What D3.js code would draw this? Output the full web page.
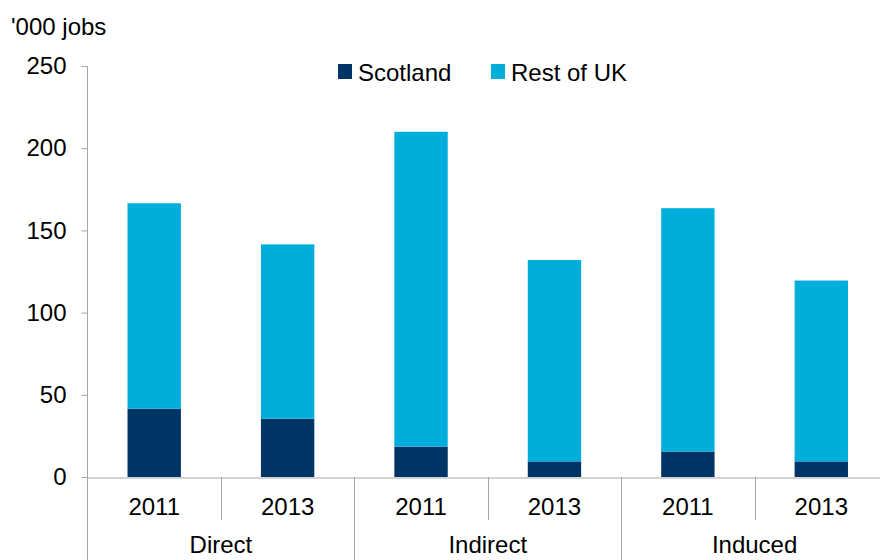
<!DOCTYPE html>
<html>
<head>
<meta charset="utf-8">
<script src="https://cdn.jsdelivr.net/npm/d3@7"></script>
<style>
  body { margin: 0; background: #fff; }
  text { font-family: "Liberation Sans", Arial, sans-serif; fill: #000; }
</style>
</head>
<body>
<div id="container"></div>
<script>
// chart values
let groups = ["Direct", "Indirect", "Induced"];
let years = ["2011", "2013"];
let scotland = [41.5, 35.5, 18.5, 9.5, 15.5, 9.5];
let restOfUK = [125, 106, 191.5, 122.5, 148, 110];
let yTicks = [0, 50, 100, 150, 200, 250];
let seriesNames = ["Scotland", "Rest of UK"];
let seriesColors = ["#003366", "#00AEDC"];

let w = 880;
let h = 560;
let fontSize = 24;
let axisColor = "#A6A6A6";

let viz = d3.select("#container")
  .append("svg")
    .attr("width", w)
    .attr("height", h)
;

// one row per bar, key = group + year
let rows = [];
groups.forEach(function(g, gi){
  years.forEach(function(y, yi){
    let i = gi * years.length + yi;
    rows.push({ key: g + " " + y, group: g, year: y, "Scotland": scotland[i], "Rest of UK": restOfUK[i] });
  });
});

let xScale = d3.scaleBand()
  .domain(rows.map(function(d){ return d.key }))
  .range([87.5, 888])
  .padding(0)
;
let yScale = d3.scaleLinear().domain([0, 250]).range([477, 66]);

let stacked = d3.stack().keys(seriesNames)(rows);

// bars
let barW = xScale.bandwidth() * 0.4;
viz.selectAll(".series")
  .data(stacked)
  .enter()
  .append("g")
    .attr("class", "series")
    .attr("fill", function(d, i){ return seriesColors[i] })
  .selectAll("rect")
  .data(function(d){ return d })
  .enter()
  .append("rect")
    .attr("x", function(d){ return xScale(d.data.key) + (xScale.bandwidth() - barW) / 2 })
    .attr("width", barW)
    .attr("y", function(d){ return yScale(d[1]) })
    .attr("height", function(d){ return yScale(d[0]) - yScale(d[1]) })
;

// y axis
let yAxis = d3.axisLeft(yScale).tickValues(yTicks).tickSize(6).tickSizeOuter(0).tickPadding(15);
let yAxisGroup = viz.append("g")
    .attr("class", "yaxisgroup")
    .attr("transform", "translate(87.5,0)")
;
yAxisGroup.call(yAxis);
yAxisGroup.select(".domain").remove();
yAxisGroup.selectAll("line").attr("stroke", axisColor);
yAxisGroup.selectAll("text")
  .style("font-size", fontSize + "px")
  .style("font-family", "Liberation Sans, Arial, sans-serif")
  .attr("fill", "#000");
yAxisGroup.append("line")
  .attr("y1", yScale(250)).attr("y2", h)
  .attr("stroke", axisColor);

// x axis (years)
let xAxis = d3.axisBottom(xScale)
  .tickSize(0).tickSizeOuter(0).tickPadding(20)
  .tickFormat(function(k){ return k.split(" ")[1] })
;
let xAxisGroup = viz.append("g")
    .attr("class", "xaxisgroup")
    .attr("transform", "translate(0," + (yScale(0) + 0.5) + ")")
;
xAxisGroup.call(xAxis);
xAxisGroup.select(".domain").attr("stroke", axisColor);
xAxisGroup.selectAll("text")
  .style("font-size", fontSize + "px")
  .style("font-family", "Liberation Sans, Arial, sans-serif")
  .attr("fill", "#000");

// dividers between bars and groups
let step = xScale.step();
let dividers = d3.range(1, rows.length + 1);
viz.selectAll(".divider")
  .data(dividers)
  .enter()
  .append("line")
    .attr("class", "divider")
    .attr("x1", function(d){ return Math.round(xScale.range()[0] + d * step) + 0.5 })
    .attr("x2", function(d){ return Math.round(xScale.range()[0] + d * step) + 0.5 })
    .attr("y1", yScale(0))
    .attr("y2", function(d){ return d % years.length == 0 ? h : 520 })
    .attr("stroke", axisColor)
;

// group labels
viz.selectAll(".grouplabel")
  .data(groups)
  .enter()
  .append("text")
    .attr("class", "grouplabel")
    .attr("x", function(d, i){ return xScale.range()[0] + (i + 0.5) * step * years.length })
    .attr("y", 553)
    .attr("text-anchor", "middle")
    .style("font-size", fontSize + "px")
    .text(function(d){ return d })
;

// axis title
viz.append("text")
  .attr("x", 11)
  .attr("y", 35)
  .style("font-size", fontSize + "px")
  .text("'000 jobs");

// legend
let legendX = [338, 491];
let legend = viz.selectAll(".legend")
  .data(seriesNames)
  .enter()
  .append("g")
    .attr("class", "legend")
    .attr("transform", function(d, i){ return "translate(" + legendX[i] + ",64)" })
;
legend.append("rect")
  .attr("width", 14).attr("height", 15)
  .attr("fill", function(d, i){ return seriesColors[i] });
legend.append("text")
  .attr("x", 20).attr("y", 16.5)
  .style("font-size", fontSize + "px")
  .text(function(d){ return d });
</script>
</body>
</html>
